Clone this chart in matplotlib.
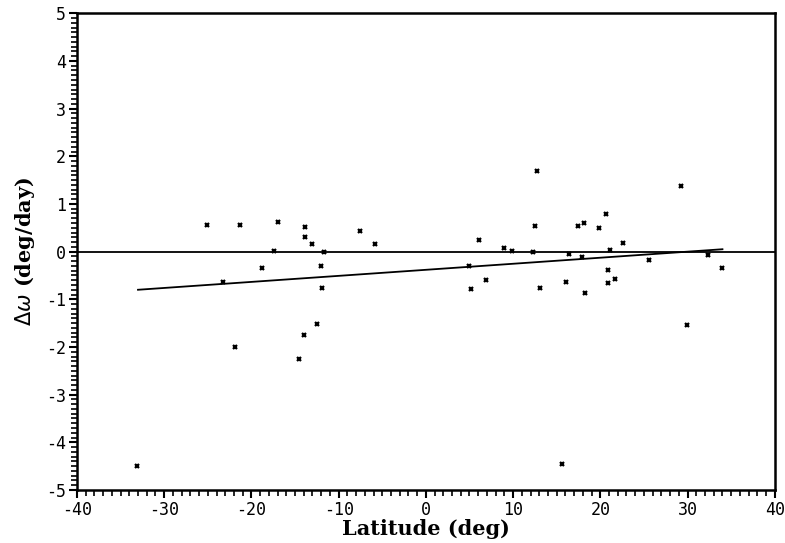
import matplotlib
matplotlib.use("Agg")
import matplotlib.pyplot as plt
import numpy as np
from matplotlib.ticker import MultipleLocator

# Data
latitude = [-33.1, -25.1, -21.3, -16.9, -13.8, -13.8, -13.0, -7.5, -5.8,
            -17.4, -11.7, -18.8, -12.0, -23.3, -11.9, -12.5, -14.0, -21.9, -14.5,
            12.7, 12.5, 17.4, 18.1, 6.1, 9.0, 9.9, 12.3, 16.4, 17.9,
            4.9, 6.9, 5.2, 13.1, 16.1, 18.3,
            29.2, 20.7, 19.9, 22.6, 21.1, 25.6, 32.4, 34.0, 20.9, 21.7, 20.9,
            29.9, 15.6]
delta_omega = [-4.50, 0.56, 0.55, 0.63, 0.52, 0.31, 0.17, 0.43, 0.15,
               0.02, -0.01, -0.34, -0.30, -0.64, -0.76, -1.52, -1.75, -2.00, -2.26,
               1.69, 0.54, 0.53, 0.61, 0.24, 0.08, 0.01, 0.00, -0.06, -0.11,
               -0.30, -0.59, -0.79, -0.76, -0.63, -0.87,
               1.38, 0.79, 0.50, 0.19, 0.03, -0.18, -0.08, -0.35, -0.38, -0.57, -0.65,
               -1.54, -4.45]
fit_x = [-33.0, 34.0]
fit_y = [-0.80, 0.05]
zero_x = [-40, 40]
zero_y = [0, 0]

x_ticks = [-40, -30, -20, -10, 0, 10, 20, 30, 40]
y_ticks = [-5, -4, -3, -2, -1, 0, 1, 2, 3, 4, 5]

fig = plt.figure(figsize=(7.85, 5.43), dpi=100)
ax = fig.add_axes([0.098, 0.0976, 0.889, 0.878])

ax.plot(zero_x, zero_y, color="black", lw=1.3)
ax.plot(fit_x, fit_y, color="black", lw=1.3)
ax.plot(latitude, delta_omega, linestyle="none", marker="x", color="black",
        markersize=3.5, markeredgewidth=1.6)

ax.set_xlim(-40, 40)
ax.set_ylim(-5, 5)
ax.set_xticks(x_ticks)
ax.set_yticks(y_ticks)
ax.xaxis.set_minor_locator(MultipleLocator(1))
ax.yaxis.set_minor_locator(MultipleLocator(0.1))
ax.tick_params(which="major", direction="out", length=6, width=1.5, pad=2)
ax.tick_params(which="minor", direction="out", length=4, width=1.2)
ax.tick_params(top=False, right=False)

tick_font = {"family": "DejaVu Sans Mono", "size": 12}
ax.set_xticklabels([f"{v}" for v in x_ticks], fontdict=tick_font)
ax.set_yticklabels([f"{v}" for v in y_ticks], fontdict=tick_font)

for s in ax.spines.values():
    s.set_linewidth(1.8)

ax.set_xlabel("Latitude (deg)", family="DejaVu Serif", fontweight="bold",
              fontsize=15, labelpad=0)
ax.set_ylabel(r"$\Delta\omega$ (deg/day)", family="DejaVu Serif", fontweight="bold",
              fontsize=15, labelpad=6)

fig.savefig("out.png", dpi=100)
